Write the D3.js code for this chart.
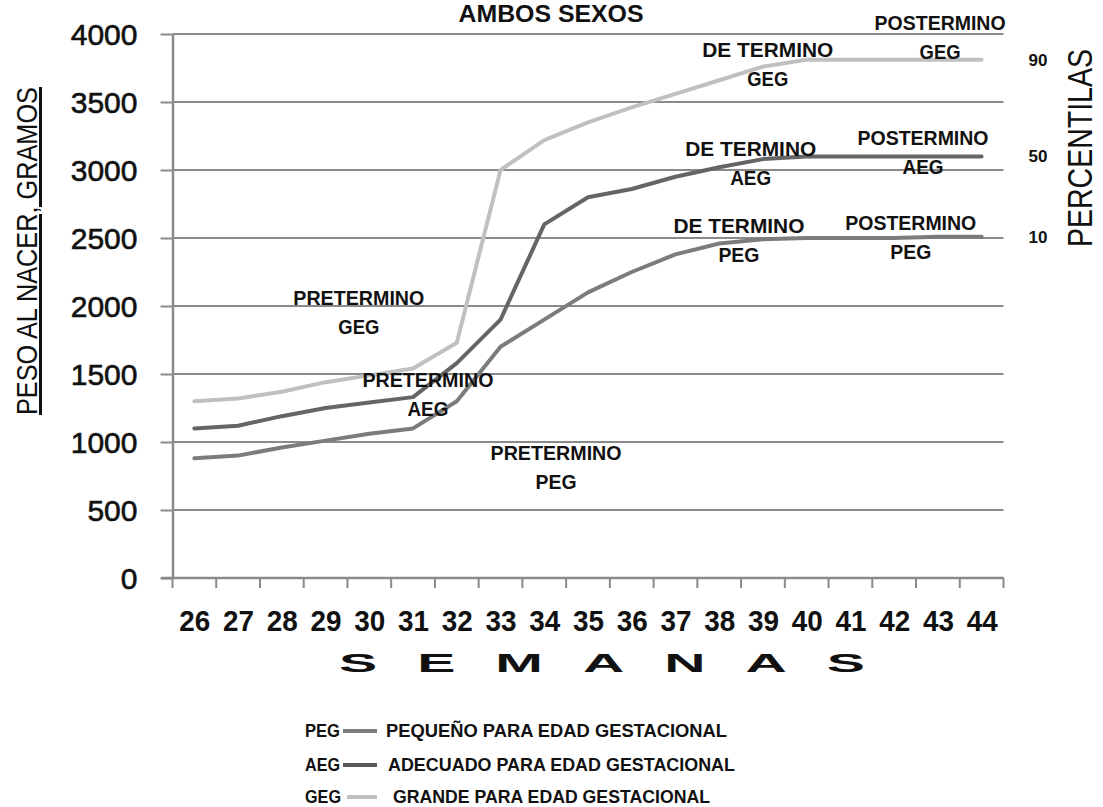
<!DOCTYPE html>
<html>
<head>
<meta charset="utf-8">
<script src="https://cdn.jsdelivr.net/npm/d3@7"></script>
<style>
  body { margin: 0; background: #fff; }
  svg { display: block; }
  text { font-family: "Liberation Sans", Arial, sans-serif; fill: #111; }
</style>
</head>
<body>
<svg id="chart" width="1103" height="807"></svg>
<script>
// ---------- data ----------
const weeks = [26, 27, 28, 29, 30, 31, 32, 33, 34, 35, 36, 37, 38, 39, 40, 41, 42, 43, 44];
const pegValues = [880, 900, 960, 1010, 1060, 1100, 1300, 1700, 1900, 2100, 2250, 2380, 2460, 2490, 2500, 2500, 2500, 2510, 2510];
const aegValues = [1100, 1120, 1190, 1250, 1290, 1330, 1580, 1900, 2600, 2800, 2860, 2950, 3020, 3080, 3100, 3100, 3100, 3100, 3100];
const gegValues = [1300, 1320, 1370, 1440, 1490, 1540, 1730, 3000, 3220, 3350, 3460, 3560, 3660, 3760, 3810, 3810, 3810, 3810, 3810];
const yTickValues = [0, 500, 1000, 1500, 2000, 2500, 3000, 3500, 4000];
const seriesKeys = ["PEG", "AEG", "GEG"];
const seriesNames = ["PEQUEÑO PARA EDAD GESTACIONAL", "ADECUADO PARA EDAD GESTACIONAL", "GRANDE PARA EDAD GESTACIONAL"];
const percentileLabels = ["10", "50", "90"];
const titleText = "AMBOS SEXOS";
const yTitle = "PESO AL NACER, GRAMOS";
const xTitle = "SEMANAS";
const rightTitle = "PERCENTILAS";
// annotations anchored in data units (week, grams)
const annotations = [
  { lines: ["PRETERMINO", "GEG"], week: 29.76, grams: 2010 },
  { lines: ["PRETERMINO", "AEG"], week: 31.34, grams: 1404 },
  { lines: ["PRETERMINO", "PEG"], week: 34.27, grams: 868 },
  { lines: ["DE TERMINO", "GEG"], week: 39.11, grams: 3831 },
  { lines: ["POSTERMINO", "GEG"], week: 43.05, grams: 4029 },
  { lines: ["DE TERMINO", "AEG"], week: 38.72, grams: 3103 },
  { lines: ["POSTERMINO", "AEG"], week: 42.66, grams: 3184 },
  { lines: ["DE TERMINO", "PEG"], week: 38.45, grams: 2537 },
  { lines: ["POSTERMINO", "PEG"], week: 42.38, grams: 2559 }
];

// ---------- styles ----------
const colors = { PEG: "#7c7c7c", AEG: "#656565", GEG: "#c0c0c0" };
const legendColors = { PEG: "#7c7c7c", AEG: "#585858", GEG: "#c0c0c0" };
const gridColor = "#8a8a8a";

const svg = d3.select("#chart");
const plotLeft = 172.5, plotRight = 1003.5, plotTop = 34, plotBottom = 578;

const x = d3.scaleLinear().domain([weeks[0] - 0.5, weeks[weeks.length - 1] + 0.5]).range([plotLeft, plotRight]);
const y = d3.scaleLinear().domain([0, 4000]).range([plotBottom, plotTop]);

// gridlines
svg.append("g").selectAll("line").data(yTickValues).join("line")
  .attr("x1", plotLeft).attr("x2", plotRight)
  .attr("y1", d => y(d)).attr("y2", d => y(d))
  .attr("stroke", gridColor).attr("stroke-width", 2);

// y axis
const yAxis = svg.append("g").attr("transform", `translate(${plotLeft},0)`)
  .call(d3.axisLeft(y).tickValues(yTickValues).tickFormat(d3.format("d"))
    .tickSize(12).tickSizeOuter(0).tickPadding(23));
yAxis.select(".domain").attr("stroke", gridColor).attr("stroke-width", 2.5);
yAxis.selectAll(".tick line").attr("stroke", gridColor).attr("stroke-width", 2);
yAxis.selectAll(".tick text")
  .style("font-family", '"Liberation Sans", Arial, sans-serif')
  .style("font-size", "30px").style("fill", "#111")
  .style("stroke", "#111").style("stroke-width", 0.6)
  .attr("dy", "0.36em");

// x axis: labels in band centers, ticks at boundaries
const xAxis = svg.append("g").attr("transform", `translate(0,${plotBottom})`)
  .call(d3.axisBottom(x).tickValues(weeks).tickSize(0).tickPadding(31).tickFormat(d3.format("d")));
xAxis.select(".domain").remove();
xAxis.selectAll(".tick text")
  .style("font-family", '"Liberation Sans", Arial, sans-serif')
  .style("font-size", "30px").style("font-weight", "bold").style("fill", "#111")
  .attr("dy", "0.72em")
  .attr("textLength", 31).attr("lengthAdjust", "spacingAndGlyphs");

const bounds = d3.range(weeks[0] - 0.5, weeks[weeks.length - 1] + 1, 1);
svg.append("g").selectAll("line").data(bounds).join("line")
  .attr("x1", d => x(d)).attr("x2", d => x(d))
  .attr("y1", plotBottom).attr("y2", plotBottom + 10)
  .attr("stroke", gridColor).attr("stroke-width", 2);
svg.append("line").attr("x1", 161).attr("x2", plotRight).attr("y1", plotBottom).attr("y2", plotBottom)
  .attr("stroke", gridColor).attr("stroke-width", 2.5);

// lines
const seriesData = [
  { key: "PEG", values: pegValues },
  { key: "AEG", values: aegValues },
  { key: "GEG", values: gegValues }
];
const line = d3.line().x((d, i) => x(weeks[i])).y(d => y(d));
svg.append("g").selectAll("path").data(seriesData).join("path")
  .attr("d", d => line(d.values))
  .attr("fill", "none")
  .attr("stroke", d => colors[d.key])
  .attr("stroke-width", 4)
  .attr("stroke-linejoin", "round")
  .attr("stroke-linecap", "round");

// annotations
const ann = svg.append("g").selectAll("text").data(annotations).join("text")
  .attr("text-anchor", "middle")
  .style("font-size", "20px").style("font-weight", "bold");
ann.each(function(d) {
  const t = d3.select(this);
  d.lines.forEach((ln, i) => {
    t.append("tspan").attr("x", x(d.week)).attr("y", y(d.grams) + i * 29)
      .attr("textLength", ln.length > 3 ? 131 : 41).attr("lengthAdjust", "spacingAndGlyphs")
      .text(ln);
  });
});

// percentile labels at series ends
svg.append("g").selectAll("text").data(seriesData).join("text")
  .attr("x", 1038).attr("y", (d) => y(d.values[d.values.length - 1]))
  .attr("dy", "0.35em")
  .attr("text-anchor", "middle")
  .style("font-size", "17px").style("font-weight", "bold")
  .text((d, i) => percentileLabels[i]);

// title
svg.append("text").attr("x", 551).attr("y", 22).attr("text-anchor", "middle")
  .style("font-size", "24px").style("font-weight", "bold")
  .attr("textLength", 185).attr("lengthAdjust", "spacingAndGlyphs")
  .text(titleText);

// y title
svg.append("text")
  .attr("transform", "translate(37,251) rotate(-90)")
  .attr("text-anchor", "middle")
  .style("font-size", "30px")
  .style("text-decoration", "underline")
  .attr("textLength", 328).attr("lengthAdjust", "spacingAndGlyphs")
  .text(yTitle);

// right title
svg.append("text")
  .attr("transform", "translate(1092,148) rotate(-90)")
  .attr("text-anchor", "middle")
  .style("font-size", "35px")
  .attr("textLength", 198).attr("lengthAdjust", "spacingAndGlyphs")
  .text(rightTitle);

// x title
const sx = 2.2;
svg.append("text")
  .attr("transform", `scale(${sx},1)`)
  .attr("x", 602 / sx).attr("y", 672)
  .attr("text-anchor", "middle")
  .style("font-size", "26px").style("font-weight", "bold")
  .attr("textLength", 526 / sx).attr("lengthAdjust", "spacing")
  .text(xTitle);

// legend
const legendRowsY = [737, 771, 803];
const lg = svg.append("g").selectAll("g").data(seriesKeys).join("g");
lg.append("text").attr("x", 305).attr("y", (d, i) => legendRowsY[i])
  .style("font-size", "19px").style("font-weight", "bold")
  .attr("textLength", (d, i) => i === 2 ? 36 : 35).attr("lengthAdjust", "spacingAndGlyphs")
  .text(d => d);
lg.append("line")
  .attr("x1", (d, i) => i === 2 ? 347 : 343).attr("x2", 377)
  .attr("y1", (d, i) => legendRowsY[i] - 6).attr("y2", (d, i) => legendRowsY[i] - 6)
  .attr("stroke", d => legendColors[d]).attr("stroke-width", 4);
const legendTextX = [386, 388, 393];
const legendTextLen = [341, 347, 317];
lg.append("text").attr("x", (d, i) => legendTextX[i]).attr("y", (d, i) => legendRowsY[i])
  .style("font-size", "19px").style("font-weight", "bold")
  .attr("textLength", (d, i) => legendTextLen[i]).attr("lengthAdjust", "spacingAndGlyphs")
  .text((d, i) => seriesNames[i]);
</script>
</body>
</html>
